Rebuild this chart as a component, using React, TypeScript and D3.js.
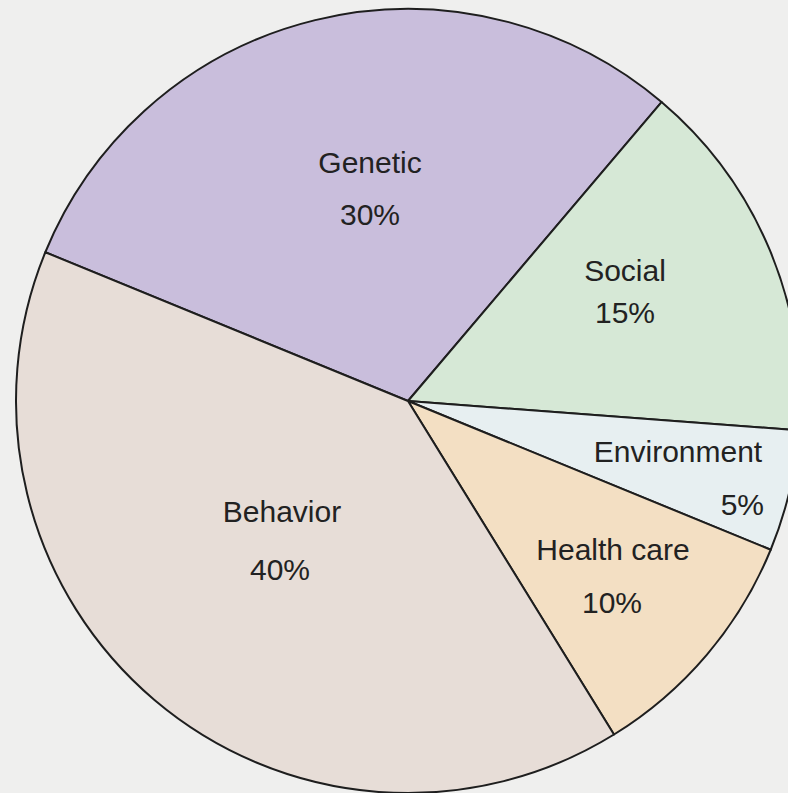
import { useEffect, useRef } from "react"
import * as d3 from "d3"

const CATEGORIES = ["Genetic", "Social", "Environment", "Health care", "Behavior"]
const VALUES = [30, 15, 5, 10, 40]
const PCT_LABELS = ["30%", "15%", "5%", "10%", "40%"]

const COLORS: Record<string, string> = {
  Genetic: "#c9bedc",
  Social: "#d6e8d6",
  Environment: "#e7eff1",
  "Health care": "#f3dfc3",
  Behavior: "#e7ddd7",
}

// label placement relative to pie centre: [nameX, nameY, pctX, pctY, pctAnchor]
const LABEL_POS: Record<string, [number, number, number, number, string]> = {
  Genetic: [-38, -228, -38, -176, "middle"],
  Social: [217, -120, 217, -78, "middle"],
  Environment: [270, 61, 356, 114, "end"],
  "Health care": [205, 159, 204, 212, "middle"],
  Behavior: [-126, 121, -128, 179, "middle"],
}

const W = 788
const H = 793

export default function App() {
  const svgRef = useRef<SVGSVGElement>(null)

  useEffect(() => {
    if (!svgRef.current) return
    const svg = d3.select(svgRef.current)
    svg.selectAll("*").remove()

    const cx = 408
    const cy = 401
    const radius = 392

    svg.append("rect").attr("width", W).attr("height", H).attr("fill", "#efefee")

    const entries = CATEGORIES.map((c, i) => ({ name: c, value: VALUES[i], pct: PCT_LABELS[i] }))
    const startAngle = (-67.7 * Math.PI) / 180
    const pie = d3
      .pie<{ name: string; value: number; pct: string }>()
      .value((d) => d.value)
      .sort(null)
      .startAngle(startAngle)
      .endAngle(startAngle + 2 * Math.PI)
    const arc = d3.arc<d3.PieArcDatum<{ name: string; value: number; pct: string }>>().innerRadius(0).outerRadius(radius)

    const g = svg.append("g").attr("transform", `translate(${cx},${cy})`)

    g.selectAll("path")
      .data(pie(entries))
      .join("path")
      .attr("d", arc)
      .attr("fill", (d) => COLORS[d.data.name])
      .attr("stroke", "#1e1e1e")
      .attr("stroke-width", 2)
      .attr("stroke-linejoin", "round")

    const font = "'Liberation Sans', Arial, Helvetica, sans-serif"
    const labels = g.selectAll("g.lbl").data(entries).join("g").attr("class", "lbl")
    labels
      .append("text")
      .attr("x", (d) => LABEL_POS[d.name][0])
      .attr("y", (d) => LABEL_POS[d.name][1])
      .attr("text-anchor", "middle")
      .attr("font-family", font)
      .attr("font-size", 30)
      .attr("fill", "#222")
      .text((d) => d.name)
    labels
      .append("text")
      .attr("x", (d) => LABEL_POS[d.name][2])
      .attr("y", (d) => LABEL_POS[d.name][3])
      .attr("text-anchor", (d) => LABEL_POS[d.name][4])
      .attr("font-family", font)
      .attr("font-size", 30)
      .attr("fill", "#222")
      .text((d) => d.pct)
  }, [])

  return (
    <svg
      ref={svgRef}
      width={W}
      height={H}
      style={{ position: "absolute", left: 0, top: 0, display: "block" }}
    />
  )
}
